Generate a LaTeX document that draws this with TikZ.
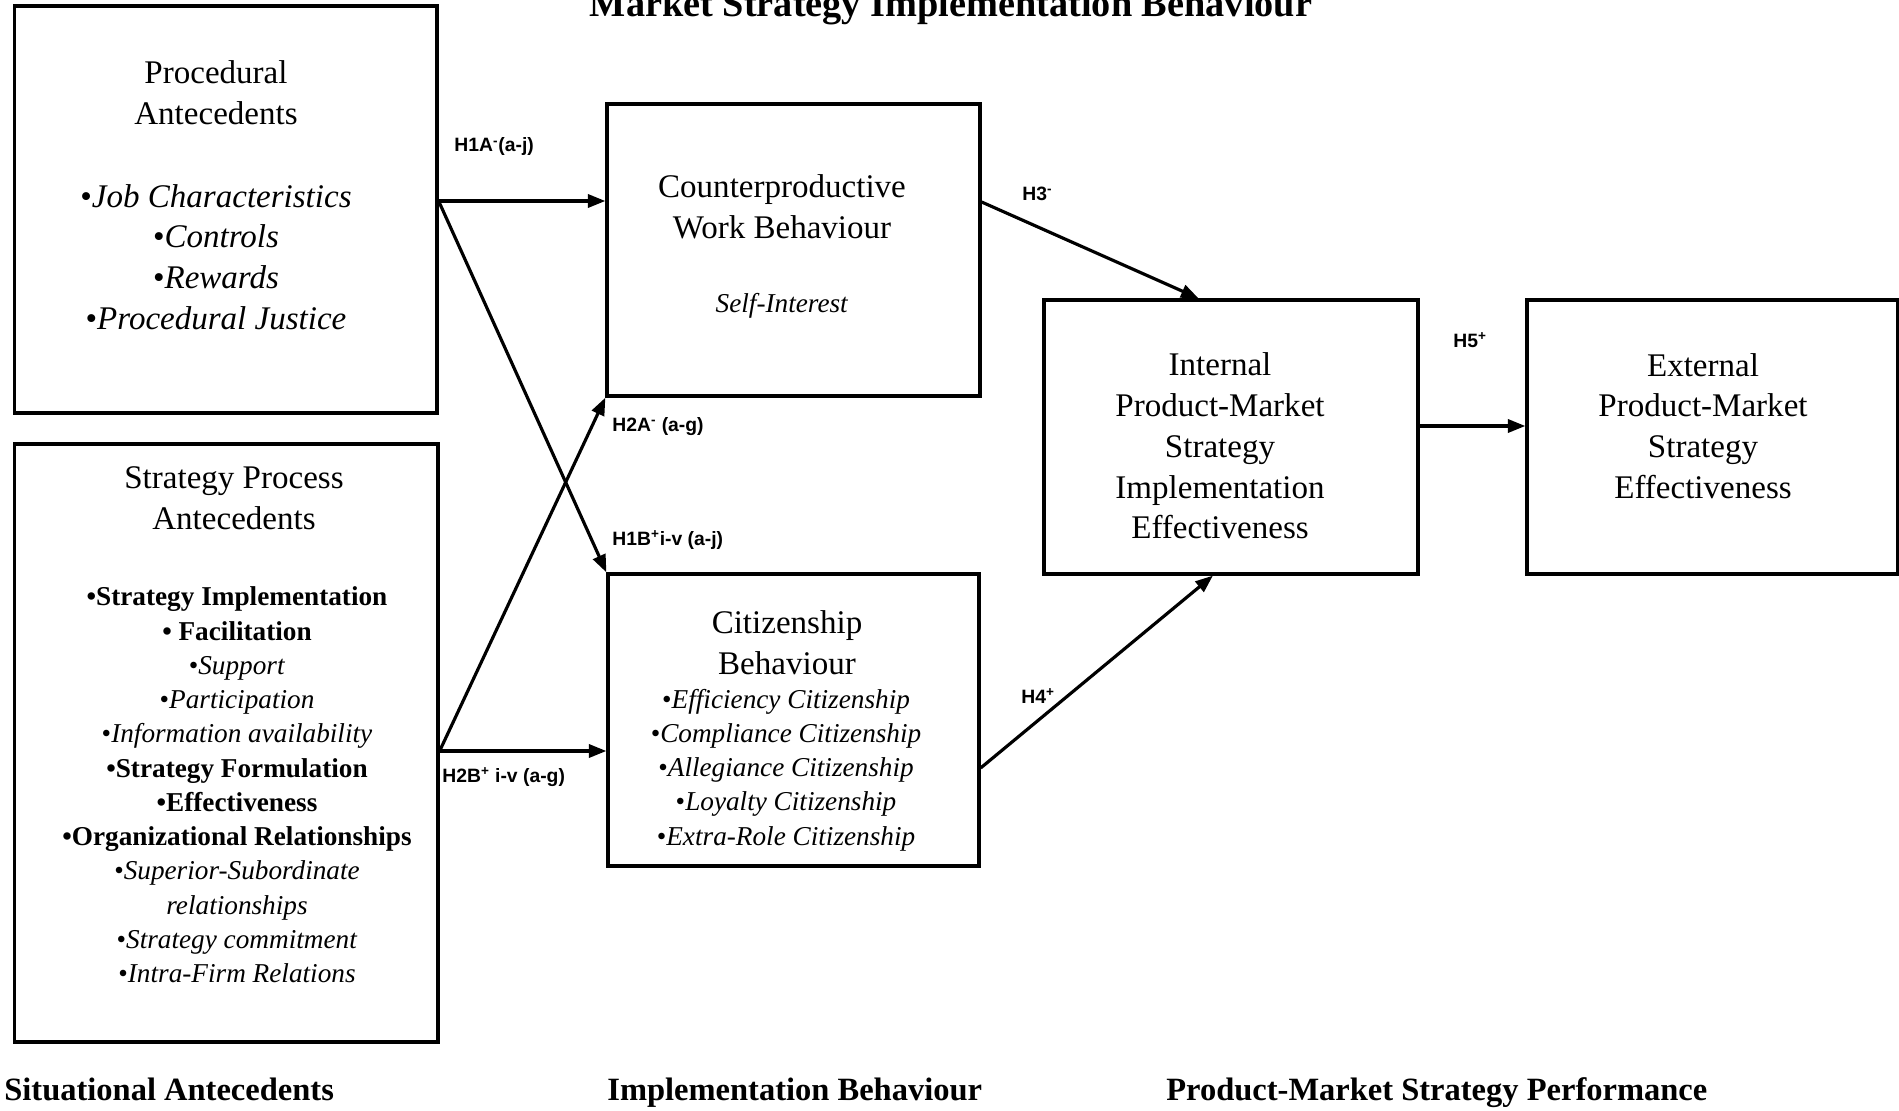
\documentclass[tikz,border=0pt]{standalone}
\usepackage{fontspec}
\setmainfont{Liberation Serif}
\newfontfamily\hypfont{Liberation Sans}
\usetikzlibrary{arrows.meta,calc}

\begin{document}
\begin{tikzpicture}[x=0.02cm, y=-0.02cm, >={Triangle[length=10pt,width=7.5pt]},
  box/.style={draw, line width=1.9pt, inner sep=0pt},
  big/.style={align=center, font=\fontsize{18.8}{23.2}\selectfont},
  small/.style={align=center, font=\fontsize{15.5}{19.5}\selectfont},
  hyp/.style={anchor=west, inner sep=0pt, font=\hypfont\bfseries\fontsize{11}{13}\selectfont},
  foot/.style={anchor=base west, inner sep=0pt, font=\bfseries\fontsize{18.5}{22}\selectfont},
  link/.style={->, line width=1.8pt}]

% Page frame (pixel units, y down)
\useasboundingbox (0,0) rectangle (1899,1111);

% Title (cut at the top edge)
\node[anchor=base, inner sep=0pt, font=\bfseries\fontsize{21.8}{26}\selectfont] (title) at (951,17)
    {Market Strategy Implementation Behaviour};

% Boxes
\node[box, minimum width=8.45cm, minimum height=8.14cm] (proc) at (225.75,209.5) {};
\node[box, minimum width=8.47cm, minimum height=11.96cm] (strat) at (226.25,743) {};
\node[box, minimum width=7.46cm, minimum height=5.84cm] (cwb) at (793.5,250) {};
\node[box, minimum width=7.42cm, minimum height=5.84cm] (cit) at (793.5,720) {};
\node[box, minimum width=7.48cm, minimum height=5.48cm] (internal) at (1231,437) {};
\node[box, minimum width=7.42cm, minimum height=5.48cm] (external) at (1712.5,437) {};

% Procedural antecedents
\node[big] (procHead) at (216,93) {Procedural\\Antecedents};
\node[big] (procList) at (216,257) {•\textit{Job Characteristics}\\•\textit{Controls}\\
    •\textit{Rewards}\\•\textit{Procedural Justice}};

% Strategy process antecedents
\node[big] (stratHead) at (234,498) {Strategy Process\\Antecedents};
\node[small] (stratList) at (237,785) {\textbf{•Strategy Implementation}\\
    \textbf{• Facilitation}\\
    •\textit{Support}\\
    •\textit{Participation}\\
    •\textit{Information availability}\\
    \textbf{•Strategy Formulation}\\
    \textbf{•Effectiveness}\\
    \textbf{•Organizational Relationships}\\
    •\textit{Superior-Subordinate}\\
    \textit{relationships}\\
    •\textit{Strategy commitment}\\
    •\textit{Intra-Firm Relations}};

% Implementation behaviour
\node[big] (cwbHead) at (782,207) {Counterproductive\\Work Behaviour};
\node[small] (cwbSub) at (782,306) {\textit{Self-Interest}};
\node[big] (citHead) at (787,643) {Citizenship\\Behaviour};
\node[small] (citList) at (786,770) {•\textit{Efficiency Citizenship}\\
    •\textit{Compliance Citizenship}\\
    •\textit{Allegiance Citizenship}\\
    •\textit{Loyalty Citizenship}\\
    •\textit{Extra-Role Citizenship}};

% Performance
\node[big] (intText) at (1220,446) {Internal\\Product-Market\\Strategy\\Implementation\\Effectiveness};
\node[big] (extText) at (1703,426) {External\\Product-Market\\Strategy\\Effectiveness};

% Arrow start points
\coordinate (o1) at (proc.east |- 0,201);
\coordinate (o2) at (strat.east |- 0,751);

% Arrows
\draw[link] (o1) -- (cwb.west |- o1);
\draw[link] (o1) -- (cit.north west);
\draw[link] (o2) -- (cwb.south west);
\draw[link] (o2) -- (cit.west |- o2);
\draw[link] (cwb.east |- 0,202) -- ($(internal.north west)!0.414!(internal.north east)$);
\draw[link] (cit.east |- 0,768) -- ($(internal.south west)!0.452!(internal.south east)$);
\draw[link] (internal.east |- 0,426) -- (external.west |- 0,426);

% Hypotheses
\node[hyp] (h1a) at (454,147) {H1A\textsuperscript{-}(a-j)};
\node[hyp] (h2a) at (612,427) {H2A\textsuperscript{-} (a-g)};
\node[hyp] (h1b) at (612,540) {H1B\textsuperscript{+}i-v (a-j)};
\node[hyp] (h2b) at (442,777) {H2B\textsuperscript{+} i-v (a-g)};
\node[hyp] (h3) at (1022,194) {H3\textsuperscript{-}};
\node[hyp] (h4) at (1021,696) {H4\textsuperscript{+}};
\node[hyp] (h5) at (1453,340) {H5\textsuperscript{+}};

% Column captions
\node[foot] (capSit) at (4,1100) {Situational Antecedents};
\node[foot] (capImp) at (607,1100) {Implementation Behaviour};
\node[foot] (capPerf) at (1166,1100) {Product-Market Strategy Performance};

\end{tikzpicture}
\end{document}
